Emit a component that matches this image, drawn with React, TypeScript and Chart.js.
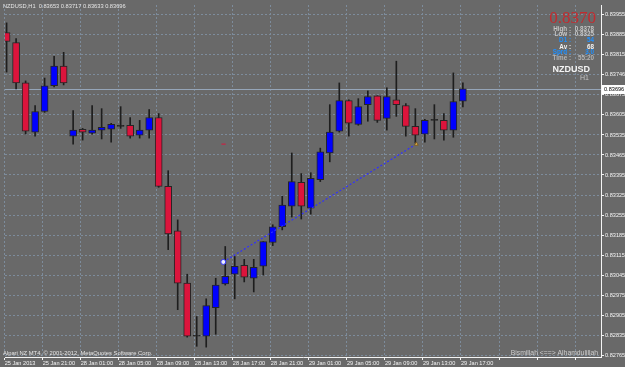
import React, { useEffect, useRef } from 'react';
import { Chart, registerables } from 'chart.js';

Chart.register(...registerables);

// ---------------- data ----------------
const symbolTitle = 'NZDUSD,H1';
const timeLabels = [
  '25 Jan 2013', '25 Jan 21:00', '28 Jan 01:00', '28 Jan 05:00', '28 Jan 09:00',
  '28 Jan 13:00', '28 Jan 17:00', '28 Jan 21:00', '29 Jan 01:00', '29 Jan 05:00',
  '29 Jan 09:00', '29 Jan 13:00', '29 Jan 17:00',
];
const barsPerTimeLabel = 4;

const opens = [
  0.83893, 0.83858, 0.83717, 0.83545, 0.83617, 0.83707, 0.83776,
  0.83531, 0.83555, 0.83541, 0.83552, 0.83555, 0.83565, 0.83569,
  0.83534, 0.83552, 0.83596, 0.83355, 0.83200, 0.83017, 0.82831,
  0.82831, 0.82931, 0.83014, 0.83048, 0.83079, 0.83034, 0.83076,
  0.83159, 0.83214, 0.83286, 0.83369, 0.83279, 0.83379, 0.83472,
  0.83548, 0.83655, 0.83572, 0.83641, 0.83672, 0.83593, 0.83658,
  0.83638, 0.83565, 0.83538, 0.83586, 0.83586, 0.83552, 0.83653,
];
const highs = [
  0.83927, 0.83872, 0.83724, 0.83638, 0.83734, 0.83810, 0.83824,
  0.83620, 0.83558, 0.83638, 0.83627, 0.83576, 0.83634, 0.83596,
  0.83586, 0.83624, 0.83610, 0.83410, 0.83238, 0.83048, 0.82900,
  0.82962, 0.83034, 0.83145, 0.83110, 0.83100, 0.83100, 0.83162,
  0.83221, 0.83321, 0.83472, 0.83400, 0.83403, 0.83489, 0.83641,
  0.83717, 0.83658, 0.83662, 0.83689, 0.83672, 0.83700, 0.83793,
  0.83645, 0.83627, 0.83590, 0.83641, 0.83610, 0.83752, 0.83717,
];
const lows = [
  0.83755, 0.83696, 0.83538, 0.83531, 0.83614, 0.83703, 0.83710,
  0.83503, 0.83517, 0.83538, 0.83521, 0.83510, 0.83558, 0.83524,
  0.83524, 0.83524, 0.83352, 0.83134, 0.82924, 0.82828, 0.82796,
  0.82793, 0.82838, 0.83010, 0.82962, 0.83021, 0.82986, 0.83045,
  0.83148, 0.83203, 0.83248, 0.83241, 0.83258, 0.83372, 0.83441,
  0.83545, 0.83531, 0.83569, 0.83583, 0.83579, 0.83552, 0.83600,
  0.83531, 0.83507, 0.83510, 0.83521, 0.83517, 0.83527, 0.83633,
];
const closes = [
  0.83862, 0.83717, 0.83548, 0.83617, 0.83707, 0.83776, 0.83717,
  0.83552, 0.83545, 0.83552, 0.83562, 0.83572, 0.83565, 0.83531,
  0.83552, 0.83596, 0.83355, 0.83189, 0.83017, 0.82831, 0.82831,
  0.82938, 0.83010, 0.83041, 0.83076, 0.83038, 0.83072, 0.83162,
  0.83214, 0.83290, 0.83372, 0.83286, 0.83383, 0.83476, 0.83545,
  0.83655, 0.83576, 0.83634, 0.83669, 0.83586, 0.83669, 0.83641,
  0.83565, 0.83534, 0.83586, 0.83586, 0.83552, 0.83652, 0.83696,
];

const priceTickLabels = [
  '0.83955', '0.83885', '0.83815', '0.83746', '0.83675', '0.83605',
  '0.83535', '0.83465', '0.83395', '0.83325', '0.83255', '0.83185',
  '0.83115', '0.83045', '0.82975', '0.82905', '0.82835', '0.82765',
];

// trend line object (bar position, price)
const trendBars = [22.8, 43.1];
const trendPrices = [0.83091, 0.83503];
// small horizontal marker object
const markBars = [22.6, 23.05];
const markPrices = [0.83503, 0.83503];

// info panel
const infoBid = '0.8370';
const infoRows: [string, string, string][] = [
  ['High :', '0.8378', '#c4c4c4'],
  ['Low :', '0.8325', '#c4c4c4'],
  ['D1 :', '54', '#1e90ff'],
  ['Av :', '68', '#f2f2f2'],
  ['Sprd :', '3.0', '#1e90ff'],
  ['Time :', '55:20', '#b4b4b4'],
];
const infoSymbol = 'NZDUSD';
const infoPeriod = 'H1';
const copyrightText = 'Alpari NZ MT4, \u00a9 2001-2012, MetaQuotes Software Corp.';
const mottoText = 'Bismillah <==> Alhamdulillah';

// ---------------- styles ----------------
const BG = '#696969';
const GRID = '#7d8c9c';
const FG = '#f4f4f4';
const BULL = '#0000ff';
const BEAR = '#dc143c';
const LINE = '#1e1e1e';
const FONT = "'Liberation Sans', Arial, sans-serif";

export default function App() {
  const ref = useRef<HTMLCanvasElement | null>(null);

  useEffect(() => {
    const canvas = ref.current;
    if (!canvas) return;
    const idx = opens.map((_, i) => i);
    const last = closes.length - 1;
    const bodyColors = idx.map((i) =>
      closes[i] > opens[i] ? BULL : closes[i] < opens[i] ? BEAR : LINE
    );

    const overlay = {
      id: 'mt4overlay',
      beforeDraw(chart: any) {
        const c = chart.ctx;
        c.save();
        c.fillStyle = BG;
        c.fillRect(0, 0, chart.width, chart.height);
        c.restore();
      },
      beforeDatasetsDraw(chart: any) {
        const c = chart.ctx;
        const a = chart.chartArea;
        const y = Math.round(chart.scales.y.getPixelForValue(closes[last])) + 0.5;
        c.save();
        c.strokeStyle = '#95a5b8';
        c.lineWidth = 1;
        c.beginPath();
        c.moveTo(a.left, y);
        c.lineTo(a.right, y);
        c.stroke();
        c.restore();
      },
      afterDraw(chart: any) {
        const c = chart.ctx;
        const a = chart.chartArea;
        const ys = chart.scales.y;
        c.save();
        c.textBaseline = 'middle';
        // price axis labels
        c.font = `5.6px ${FONT}`;
        c.fillStyle = FG;
        c.textAlign = 'left';
        priceTickLabels.forEach((s) => {
          c.fillText(s, a.right + 4, ys.getPixelForValue(parseFloat(s)));
        });
        // header
        c.font = `5.7px ${FONT}`;
        c.fillStyle = '#e6e6e6';
        c.textAlign = 'left';
        const hdr = `${symbolTitle}  ${opens[last].toFixed(5)} ${highs[last].toFixed(5)} ${lows[last].toFixed(5)} ${closes[last].toFixed(5)}`;
        c.fillText(hdr, 3, 6);
        // copyright
        c.font = `5.8px ${FONT}`;
        c.fillStyle = '#e6e6e6';
        c.fillText(copyrightText, 3, 353);
        // motto
        c.font = `6.8px ${FONT}`;
        c.fillStyle = '#cfcfcf';
        c.textAlign = 'right';
        c.fillText(mottoText, 598, 353);
        // info panel
        c.font = `17px 'Liberation Serif', 'Times New Roman', serif`;
        c.fillStyle = '#c42a2e';
        c.textAlign = 'right';
        c.fillText(infoBid, 596, 19);
        const rowY = [29.5, 34.5, 40.7, 47, 52, 58.7];
        c.font = `bold 6.3px ${FONT}`;
        infoRows.forEach((r, i) => {
          c.fillStyle = r[2];
          c.textAlign = 'right';
          c.fillText(r[0], 571, rowY[i]);
          c.fillText(r[1], 594, rowY[i]);
        });
        c.font = `bold 9px ${FONT}`;
        c.fillStyle = '#f4f4f4';
        c.textAlign = 'right';
        c.fillText(infoSymbol, 590, 70);
        c.font = `7px ${FONT}`;
        c.fillStyle = '#c4c4c4';
        c.fillText(infoPeriod, 589, 78.5);
        // current price box
        const py = ys.getPixelForValue(closes[last]);
        c.fillStyle = '#ffffff';
        c.fillRect(a.right + 1, Math.round(py) - 4, 24, 9);
        c.fillStyle = '#000000';
        c.textAlign = 'left';
        c.font = `5.6px ${FONT}`;
        c.fillText(closes[last].toFixed(5), a.right + 3, Math.round(py) + 0.5);
        c.restore();
      },
    };

    const chart = new Chart(canvas, {
      type: 'bar',
      data: {
        datasets: [
          {
            type: 'line',
            label: 'trend',
            data: trendBars.map((b, i) => ({ x: b, y: trendPrices[i] })),
            borderColor: '#3030ff',
            borderWidth: 1.2,
            borderDash: [2, 2],
            pointRadius: [2.5, 2.2],
            pointStyle: ['circle', 'triangle'],
            pointBackgroundColor: ['#eef0ff', '#f0c050'],
            pointBorderColor: ['#3030ff', '#7a5a20'],
            pointBorderWidth: 1,
            order: 0,
          } as any,
          {
            type: 'line',
            label: 'mark',
            data: markBars.map((b, i) => ({ x: b, y: markPrices[i] })),
            borderColor: BEAR,
            borderWidth: 1,
            pointRadius: 0,
            order: 0,
          } as any,
          {
            type: 'bar',
            label: 'body',
            data: idx.map((i) => ({ x: i, y: [opens[i], closes[i]] })),
            backgroundColor: bodyColors,
            borderColor: '#262626',
            borderWidth: 1,
            borderSkipped: false,
            grouped: false,
            barThickness: 7,
            maxBarThickness: 7,
            minBarLength: 1,
            order: 1,
          } as any,
          {
            type: 'bar',
            label: 'wick',
            data: idx.map((i) => ({ x: i, y: [lows[i], highs[i]] })),
            backgroundColor: LINE,
            borderWidth: 0,
            grouped: false,
            barThickness: 1,
            maxBarThickness: 1,
            order: 2,
          } as any,
        ],
      },
      options: {
        responsive: false,
        animation: false,
        devicePixelRatio: 1,
        layout: { padding: 0 },
        plugins: { legend: { display: false }, tooltip: { enabled: false } },
        scales: {
          x: {
            type: 'linear',
            position: 'bottom',
            offset: false,
            min: -0.167,
            max: 62.53,
            bounds: 'data',
            grid: {
              offset: false,
              color: GRID,
              lineWidth: 1,
              drawTicks: true,
              tickLength: 3,
              tickColor: FG,
            },
            border: { display: true, color: FG, width: 1, dash: [2, 2] },
            ticks: {
              autoSkip: false,
              maxRotation: 0,
              minRotation: 0,
              align: 'start',
              padding: 0,
              color: FG,
              font: { size: 5.6, family: FONT },
              callback: (_v: any, i: number) => timeLabels[i] ?? '',
            },
            afterBuildTicks: (s: any) => {
              const t = [];
              for (let k = 0; k * barsPerTimeLabel <= 62; k++) t.push({ value: k * barsPerTimeLabel - 0.2 });
              s.ticks = t;
            },
            afterFit: (s: any) => {
              s.height = 10;
              s.paddingLeft = 0;
              s.paddingRight = 0;
            },
          } as any,
          y: {
            type: 'linear',
            position: 'right',
            min: 0.827585,
            max: 0.839895,
            bounds: 'data',
            grid: {
              color: GRID,
              lineWidth: 1,
              drawTicks: true,
              tickLength: 3,
              tickColor: FG,
            },
            border: { display: true, color: FG, width: 1, dash: [2, 2] },
            ticks: {
              display: false,
              callback: (v: any) => priceTickLabels.find((s) => parseFloat(s) === v) ?? '',
            },
            afterBuildTicks: (s: any) => {
              s.ticks = priceTickLabels.map((p) => ({ value: parseFloat(p) })).sort((a, b) => a.value - b.value);
            },
            afterFit: (s: any) => {
              s.width = 24;
              s.paddingTop = 0;
              s.paddingBottom = 0;
            },
          } as any,
        },
      },
      plugins: [overlay],
    });
    return () => chart.destroy();
  }, []);

  return (
    <div style={{ position: 'fixed', left: 0, top: 0, width: 625, height: 367, background: BG }}>
      <canvas ref={ref} width={625} height={367} style={{ display: 'block' }} />
    </div>
  );
}
